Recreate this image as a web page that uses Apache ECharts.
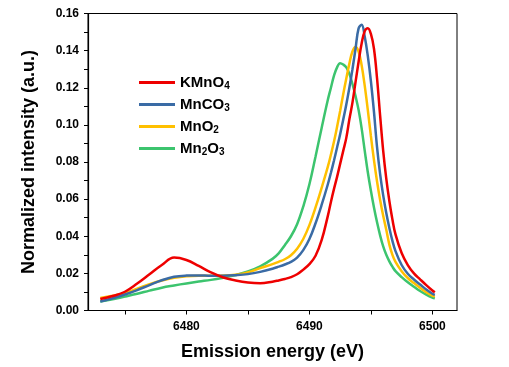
<!DOCTYPE html>
<html>
<head>
<meta charset="utf-8">
<script src="https://cdn.jsdelivr.net/npm/echarts@6/dist/echarts.min.js"></script>
<style>html,body{margin:0;padding:0;background:#fff}#c{width:509px;height:367px}</style>
</head>
<body>
<div id="c"></div>
<script>
const energy = [6473,6474,6475,6476,6477,6478,6479,6480,6481,6482,6483,6484,6485,6486,6487,
  6487.5,6488,6488.5,6489,6489.5,6490,6490.5,6491,6491.5,
  6491.75,6492,6492.25,6492.5,6492.75,6493,6493.25,6493.5,6493.75,6494,6494.25,6494.5,6494.75,6495,6495.25,6495.5,6495.75,6496,6496.25,6496.5,6496.75,6497,
  6497.5,6498,6498.5,6499,6499.5,6500,6500.2];
const kmno4 = [0.0062,0.0078,0.0101,0.0145,0.0195,0.0245,0.0285,0.0272,0.0240,0.0205,0.0178,0.0162,0.0151,0.0147,0.0155,
  0.0162,0.0170,0.0180,0.0195,0.0220,0.0250,0.0295,0.0380,0.0510,
  0.0585,0.0655,0.0720,0.0790,0.0860,0.0930,0.1030,0.1120,0.1230,0.1340,0.1440,0.1505,0.1520,0.1490,0.1410,0.1250,0.1050,0.0860,0.0710,0.0590,0.0490,0.0410,
  0.0310,0.0245,0.0200,0.0168,0.0137,0.0108,0.0098];
const mnco3 = [0.0048,0.0066,0.0086,0.0110,0.0137,0.0163,0.0182,0.0188,0.0189,0.0187,0.0187,0.0190,0.0196,0.0208,0.0225,
  0.0236,0.0248,0.0262,0.0285,0.0325,0.0385,0.0470,0.0570,0.0680,
  0.0742,0.0808,0.0878,0.0950,0.1028,0.1110,0.1200,0.1300,0.1410,0.1520,0.1540,0.1475,0.1370,0.1235,0.1070,0.0880,0.0735,0.0620,0.0525,0.0445,0.0375,0.0320,
  0.0245,0.0198,0.0167,0.0140,0.0113,0.0090,0.0084];
const mno2 = [0.0067,0.0080,0.0094,0.0118,0.0142,0.0162,0.0176,0.0184,0.0187,0.0187,0.0188,0.0193,0.0205,0.0228,0.0250,
  0.0262,0.0276,0.0298,0.0333,0.0385,0.0460,0.0555,0.0662,0.0775,
  0.0840,0.0910,0.0990,0.1075,0.1165,0.1250,0.1330,0.1395,0.1420,0.1395,0.1320,0.1210,0.1080,0.0940,0.0810,0.0695,0.0595,0.0510,0.0435,0.0355,0.0300,0.0262,
  0.0212,0.0175,0.0148,0.0122,0.0098,0.0080,0.0075];
const mn2o3 = [0.0048,0.0061,0.0075,0.0090,0.0107,0.0123,0.0135,0.0146,0.0156,0.0165,0.0177,0.0191,0.0210,0.0238,0.0278,
  0.0308,0.0352,0.0400,0.0465,0.0560,0.0680,0.0830,0.0985,0.1135,
  0.1200,0.1265,0.1310,0.1332,0.1325,0.1310,0.1275,0.1220,0.1155,0.1080,0.0980,0.0860,0.0745,0.0645,0.0555,0.0475,0.0405,0.0345,0.0300,0.0265,0.0236,0.0212,
  0.0180,0.0152,0.0128,0.0105,0.0086,0.0070,0.0066];
const seriesNames = ['KMnO4','MnCO3','MnO2','Mn2O3'];
const legendLabels = {'KMnO4':'KMnO{s|4}','MnCO3':'MnCO{s|3}','MnO2':'MnO{s|2}','Mn2O3':'Mn{s|2}O{s|3}'};
const colors = ['#EE0000','#3A6BA5','#FFC000','#3CC46E'];
const xMajorTicks = [6480,6490,6500];
const xAllTicks = [6475,6480,6485,6490,6495,6500];

const allData = [kmno4, mnco3, mno2, mn2o3];
const chart = echarts.init(document.getElementById('c'));
const series = allData.map((arr, i) => ({
  name: seriesNames[i],
  type: 'line',
  smooth: 0.4,
  symbol: 'none',
  z: 10 - i,
  lineStyle: {width: 2.5, color: colors[i]},
  itemStyle: {color: colors[i]},
  data: energy.map((e, j) => [e, arr[j]])
}));
const font = 'Liberation Sans, Arial, sans-serif';
chart.setOption({
  animation: false,
  grid: {left: 88, right: 52, top: 13.5, bottom: 56.5, show: true, borderColor: '#000', borderWidth: 1},
  legend: {
    orient: 'vertical', left: 134, top: 70, itemGap: 5.5,
    itemWidth: 36, itemHeight: 3, icon: 'rect',
    data: seriesNames,
    formatter: n => legendLabels[n],
    textStyle: {fontFamily: font, fontWeight: 'bold', fontSize: 15, color: '#000',
      rich: {s: {fontFamily: font, fontWeight: 'bold', fontSize: 10, verticalAlign: 'bottom', padding: [8,0,0,0]}}}
  },
  xAxis: {
    type: 'value', min: 6472, max: 6502,
    name: 'Emission energy (eV)', nameLocation: 'middle', nameGap: 33,
    nameTextStyle: {fontFamily: font, fontWeight: 'bold', fontSize: 18, color: '#000'},
    axisLine: {show: true, lineStyle: {color: '#000', width: 1.2}},
    axisTick: {show: true, customValues: xAllTicks, length: 4, lineStyle: {color: '#000'}},
    axisLabel: {customValues: xMajorTicks, margin: 10, fontFamily: font, fontWeight: 'bold', fontSize: 12, color: '#000', formatter: v => String(v)},
    splitLine: {show: false}
  },
  yAxis: {
    type: 'value', min: 0, max: 0.16, interval: 0.02,
    name: 'Normalized intensity (a.u.)', nameLocation: 'middle', nameGap: 50,
    nameTextStyle: {fontFamily: font, fontWeight: 'bold', fontSize: 18, color: '#000'},
    axisLine: {show: true, lineStyle: {color: '#000', width: 1.2}},
    axisTick: {show: true, length: 4, lineStyle: {color: '#000'}},
    minorTick: {show: true, splitNumber: 2, length: 4, lineStyle: {color: '#000'}},
    axisLabel: {margin: 9, fontFamily: font, fontWeight: 'bold', fontSize: 12, color: '#000', formatter: v => v.toFixed(2)},
    splitLine: {show: false}
  },
  series: series
});
</script>
</body>
</html>
